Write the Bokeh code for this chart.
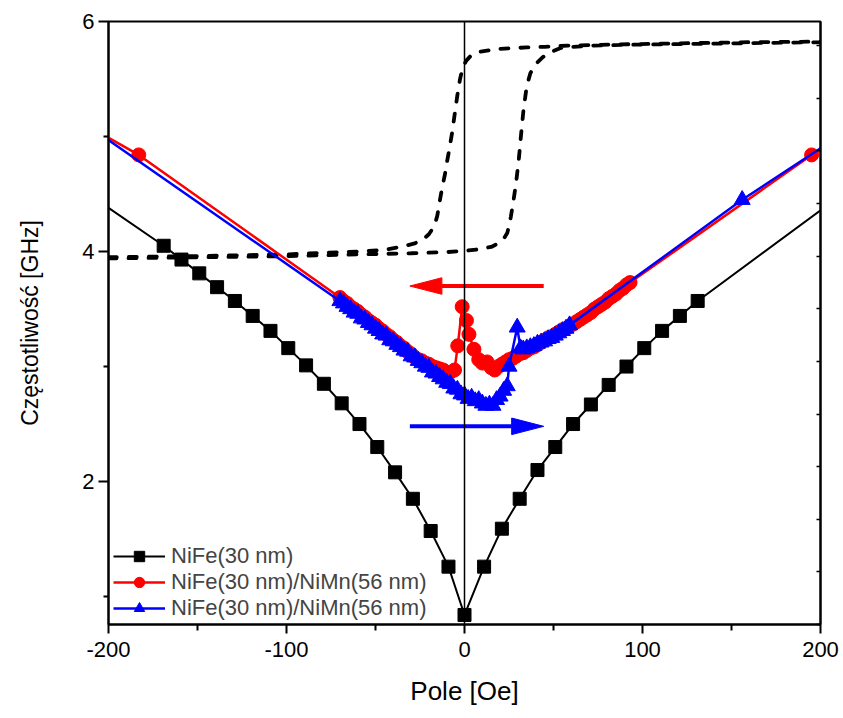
from bokeh.plotting import figure
from bokeh.models import (Range1d, LinearAxis, FixedTicker, Span, Legend,
                          LegendItem, ColumnDataSource)
from bokeh.embed import file_html
from bokeh.resources import INLINE

FONT = "Liberation Sans"

# NiFe(30 nm) single layer: resonance frequency vs field
nife_field = [-215, -169, -159, -149, -139, -129, -119, -109, -99, -89, -79, -69,
              -59, -49, -39, -29, -19, -9, 0, 11, 21, 31, 41, 51, 61, 71, 81, 91,
              101, 111, 121, 131, 215]
nife_freq = [4.54, 4.05, 3.93, 3.81, 3.69, 3.57, 3.44, 3.31, 3.16, 3.01, 2.85, 2.68,
             2.50, 2.30, 2.08, 1.85, 1.57, 1.26, 0.84, 1.26, 1.59, 1.85, 2.10, 2.30,
             2.50, 2.67, 2.84, 3.00, 3.16, 3.31, 3.44, 3.57, 4.53]

# NiFe/NiMn bilayer, field swept downwards
down_field = [215, 195, 93, 91, 89, 87, 85, 83, 81, 79, 77, 75, 73, 71, 69, 67, 65,
              63, 61, 59, 57, 55, 53, 51, 49, 47, 45, 43, 41, 39, 37, 35, 33, 31, 29,
              27, 25, 23, 21, 19, 17, 15, 12.7, 10, 8, 5.3, 2.5, 1.1, -1.3, -3.8,
              -5.6, -8, -10, -12, -14, -16, -18, -20, -22, -24, -26, -28, -30, -32,
              -34, -36, -38, -40, -42, -44, -46, -48, -50, -52, -54, -56, -58, -60,
              -62, -64, -66, -68, -70, -183, -215]
down_freq = [5.00, 4.84, 3.73, 3.71, 3.68, 3.66, 3.63, 3.61, 3.59, 3.56, 3.54, 3.52,
             3.50, 3.47, 3.45, 3.43, 3.41, 3.39, 3.37, 3.35, 3.33, 3.32, 3.30, 3.28,
             3.26, 3.25, 3.23, 3.21, 3.19, 3.17, 3.16, 3.14, 3.12, 3.11, 3.09, 3.07,
             3.06, 3.04, 3.02, 3.00, 2.97, 2.99, 3.04, 3.03, 3.06, 3.15, 3.28, 3.40,
             3.52, 3.18, 2.97, 2.95, 2.95, 2.97, 2.98, 2.99, 3.00, 3.02, 3.03, 3.05,
             3.06, 3.08, 3.11, 3.13, 3.16, 3.18, 3.21, 3.23, 3.26, 3.28, 3.31, 3.33,
             3.36, 3.38, 3.40, 3.43, 3.45, 3.48, 3.50, 3.52, 3.55, 3.57, 3.60, 4.84,
             5.12]

# NiFe/NiMn bilayer, field swept upwards
up_field = [-215, -70, -68, -66, -64, -62, -60, -58, -56, -54, -52, -50, -48, -46,
            -44, -42, -40, -38, -36, -34, -32, -30, -28, -26, -24, -22, -20, -18,
            -16, -14, -12, -10, -8, -6, -4, -2, 0, 2, 4, 6, 8, 10, 12, 14, 16, 18,
            20, 22, 24, 25, 29.6, 31.5, 33, 35, 37, 39, 41, 43, 45, 47, 49, 51, 53,
            55, 57, 59, 156, 215]
up_freq = [5.13, 3.57, 3.55, 3.52, 3.50, 3.47, 3.46, 3.42, 3.41, 3.38, 3.36, 3.33,
           3.31, 3.28, 3.27, 3.23, 3.22, 3.19, 3.17, 3.14, 3.13, 3.09, 3.08, 3.05,
           3.03, 3.00, 2.99, 2.95, 2.94, 2.91, 2.89, 2.86, 2.85, 2.81, 2.80, 2.76,
           2.75, 2.72, 2.73, 2.70, 2.71, 2.68, 2.66, 2.67, 2.66, 2.71, 2.74, 2.79,
           2.83, 3.00, 3.34, 3.16, 3.15, 3.16, 3.17, 3.18, 3.20, 3.21, 3.22, 3.24,
           3.25, 3.27, 3.29, 3.31, 3.33, 3.36, 4.45, 5.05]

# Hysteresis loop (scaled), lower branch then upper branch
loop_field = [-200, -150, -100, -60, -30, -10, 0, 8, 15, 19, 22, 24, 25, 26, 27.5,
              29, 30.5, 31.8, 33.2, 35, 37, 40, 44, 48, 54, 70, 100, 150, 200,
              200, 160, 120, 85, 58, 45, 35, 18, 8, 4, 1, -1, -2.5, -4, -5, -6, -7,
              -8.3, -9.7, -11, -12.5, -14, -15.3, -17, -20, -23, -28, -36, -45, -60,
              -100, -150, -200]
loop_level = [3.94, 3.95, 3.96, 3.975, 3.985, 3.995, 4.005, 4.02, 4.04, 4.07, 4.11,
              4.16, 4.22, 4.30, 4.44, 4.60, 4.80, 5.02, 5.24, 5.44, 5.55, 5.63, 5.69,
              5.73, 5.77, 5.79, 5.80, 5.81, 5.82,
              5.825, 5.82, 5.81, 5.80, 5.79, 5.78, 5.775, 5.76, 5.735, 5.71, 5.66,
              5.60, 5.50, 5.36, 5.25, 5.14, 5.03, 4.91, 4.79, 4.67, 4.56, 4.43, 4.31,
              4.22, 4.15, 4.11, 4.07, 4.04, 4.015, 4.00, 3.975, 3.96, 3.95]

# sweep-direction arrows: start field, end field, frequency level
arrow_down = (44.5, -30.7, 3.70)
arrow_up = (-30.7, 44.5, 2.48)

x_major = [-200, -100, 0, 100, 200]
x_minor = [-150, -50, 50, 150]
y_major = [2, 4, 6]
y_minor = [1, 3, 5]

labels = ["NiFe(30 nm)", "NiFe(30 nm)/NiMn(56 nm)", "NiFe(30 nm)/NiMn(56 nm)"]

p = figure(width=843, height=718, x_range=Range1d(-200, 200),
           y_range=Range1d(0.757, 6), output_backend="svg",
           toolbar_location=None, min_border_left=108, min_border_right=23,
           min_border_top=21, min_border_bottom=94,
           x_axis_label="Pole [Oe]", y_axis_label="Częstotliwość [GHz]")
p.xgrid.grid_line_color = None
p.ygrid.grid_line_color = None
p.outline_line_color = "black"
p.outline_line_width = 2
p.background_fill_color = "white"
p.border_fill_color = "white"

for ax in (p.xaxis[0], p.yaxis[0]):
    ax.axis_line_width = 2
    ax.major_tick_line_width = 2
    ax.minor_tick_line_width = 2
    ax.major_tick_in = 0
    ax.minor_tick_in = 0
    ax.major_label_text_font = FONT
    ax.major_label_text_font_size = "22px"
    ax.major_label_text_color = "black"
    ax.axis_label_text_font = FONT
    ax.axis_label_text_font_style = "normal"
    ax.axis_label_text_color = "black"

p.xaxis.ticker = FixedTicker(ticks=x_major, minor_ticks=x_minor)
p.xaxis.major_label_overrides = {v: str(v) for v in x_major}
p.xaxis.major_tick_out = 9
p.xaxis.minor_tick_out = 6
p.xaxis.major_label_standoff = 8
p.xaxis.axis_label_standoff = 16
p.xaxis.axis_label_text_font_size = "26px"

p.yaxis.ticker = FixedTicker(ticks=y_major, minor_ticks=y_minor)
p.yaxis.major_tick_out = 10
p.yaxis.minor_tick_out = 5
p.yaxis.major_label_standoff = 4
p.yaxis.axis_label_standoff = 36
p.yaxis.axis_label_text_font_size = "23px"

# unlabelled right axis belonging to the loop curve
p.extra_y_ranges = {"loop": Range1d(0, 11.46)}
right = LinearAxis(y_range_name="loop",
                   ticker=FixedTicker(ticks=list(range(0, 12)), minor_ticks=[]),
                   major_tick_in=4, major_tick_out=0, minor_tick_in=0,
                   minor_tick_out=0, axis_line_width=2, major_tick_line_width=1.5,
                   major_label_overrides={i: "" for i in range(0, 12)})
p.add_layout(right, "right")

# hysteresis loop
p.line(loop_field, loop_level, line_color="black", line_width=3.8,
       line_dash="8 12", line_cap="round")

# NiFe single layer
src_nife = ColumnDataSource(dict(x=nife_field, y=nife_freq))
bl = p.line("x", "y", source=src_nife, line_color="black", line_width=2)
bs = p.scatter("x", "y", source=src_nife, marker="square", size=13,
               fill_color="black", line_color="black")

# bilayer, decreasing field
src_down = ColumnDataSource(dict(x=down_field, y=down_freq))
rl = p.line("x", "y", source=src_down, line_color="red", line_width=2.5)
rs = p.scatter("x", "y", source=src_down, marker="circle", size=14,
               fill_color="red", line_color="red")

# bilayer, increasing field
src_up = ColumnDataSource(dict(x=up_field, y=up_freq))
ul = p.line("x", "y", source=src_up, line_color="blue", line_width=2.5)
us = p.scatter("x", "y", source=src_up, marker="triangle", size=16,
               fill_color="blue", line_color="blue")

# sweep-direction arrows
head_len = 18.0   # Oe
head_half = 0.072  # GHz
for (x0, x1, yl), col in ((arrow_down, "red"), (arrow_up, "blue")):
    d = 1 if x1 > x0 else -1
    base = x1 - d * head_len
    p.segment(x0=[x0], y0=[yl], x1=[base], y1=[yl], line_color=col, line_width=4)
    p.patch([x1, base, base], [yl, yl + head_half, yl - head_half],
            fill_color=col, line_color=col, line_width=1)

# zero-field marker
p.add_layout(Span(location=0, dimension="height", line_color="black",
                  line_width=1.5))

legend = Legend(items=[LegendItem(label=labels[0], renderers=[bl, bs]),
                       LegendItem(label=labels[1], renderers=[rl, rs]),
                       LegendItem(label=labels[2], renderers=[ul, us])],
                location=(5, 3), border_line_color=None,
                background_fill_alpha=0, label_text_font=FONT,
                label_text_font_size="22px", glyph_width=52, glyph_height=26,
                label_height=26, spacing=0, padding=5, margin=0,
                label_standoff=6)
p.add_layout(legend)

open("out.html", "w").write(file_html(p, INLINE))
